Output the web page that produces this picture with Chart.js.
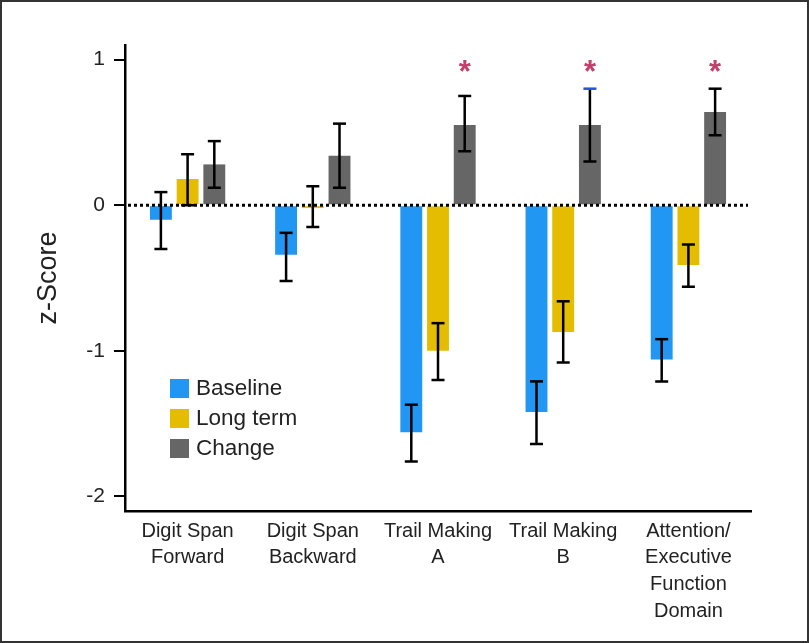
<!DOCTYPE html>
<html>
<head>
<meta charset="utf-8">
<script src="https://cdn.jsdelivr.net/npm/chart.js@4.4.1/dist/chart.umd.min.js"></script>
<style>
  html, body { margin: 0; padding: 0; background: #fff; }
  #wrap { width: 809px; height: 643px; position: relative; }
</style>
</head>
<body>
<div id="wrap"><canvas id="chart" width="809" height="643"></canvas></div>
<script>
const categories = [
  ['Digit Span', 'Forward'],
  ['Digit Span', 'Backward'],
  ['Trail Making', 'A'],
  ['Trail Making', 'B'],
  ['Attention/', 'Executive', 'Function', 'Domain']
];

const baseline   = [-0.10, -0.34, -1.56, -1.42, -1.06];
const baselineLo = [-0.30, -0.52, -1.76, -1.64, -1.21];
const baselineHi = [ 0.09, -0.19, -1.37, -1.21, -0.92];

const longTerm   = [ 0.18, -0.02, -1.00, -0.87, -0.41];
const longTermLo = [ 0.00, -0.15, -1.20, -1.08, -0.56];
const longTermHi = [ 0.35,  0.13, -0.81, -0.66, -0.27];

const change   = [0.28, 0.34, 0.55, 0.55, 0.64];
const changeLo = [0.12, 0.12, 0.37, 0.30, 0.48];
const changeHi = [0.44, 0.56, 0.75, 0.80, 0.80];
// one upper cap in the original is printed blue
const changeHiCap = ['#000', '#000', '#000', '#2a4fd8', '#000'];

const significant = [false, false, true, true, true];
const starLevel = 0.94;

const yTicks = [-2, -1, 0, 1];

const colors = { baseline: '#2196f3', longTerm: '#e5bd00', change: '#666666' };

const errorBars = [
  { lo: baselineLo, hi: baselineHi },
  { lo: longTermLo, hi: longTermHi },
  { lo: changeLo, hi: changeHi, hiCap: changeHiCap }
];

const overlay = {
  id: 'overlay',
  afterDatasetsDraw(chart) {
    const ctx = chart.ctx;
    const y = chart.scales.y;
    const area = chart.chartArea;

    // dotted zero line
    ctx.save();
    ctx.strokeStyle = '#000';
    ctx.lineWidth = 3;
    ctx.setLineDash([3, 3]);
    ctx.beginPath();
    const y0 = y.getPixelForValue(0);
    ctx.moveTo(area.left + 3, y0);
    ctx.lineTo(area.right - 3, y0);
    ctx.stroke();
    ctx.restore();

    // error bars
    ctx.save();
    ctx.lineWidth = 2.5;
    errorBars.forEach((eb, i) => {
      const meta = chart.getDatasetMeta(i);
      meta.data.forEach((bar, j) => {
        const yl = y.getPixelForValue(eb.lo[j]);
        const yh = y.getPixelForValue(eb.hi[j]);
        ctx.strokeStyle = '#000';
        ctx.beginPath();
        ctx.moveTo(bar.x, yl);
        ctx.lineTo(bar.x, yh);
        ctx.moveTo(bar.x - 6.5, yl);
        ctx.lineTo(bar.x + 6.5, yl);
        ctx.stroke();
        ctx.strokeStyle = eb.hiCap ? eb.hiCap[j] : '#000';
        ctx.beginPath();
        ctx.moveTo(bar.x - 6.5, yh);
        ctx.lineTo(bar.x + 6.5, yh);
        ctx.stroke();
      });
    });
    ctx.restore();

    // significance stars above the change bars
    ctx.save();
    ctx.fillStyle = '#c2416b';
    ctx.font = 'bold 31px "Liberation Sans", Arial, sans-serif';
    ctx.textAlign = 'center';
    ctx.textBaseline = 'middle';
    const meta = chart.getDatasetMeta(2);
    significant.forEach((s, j) => {
      if (!s) return;
      ctx.fillText('*', meta.data[j].x, y.getPixelForValue(starLevel) + 5);
    });
    ctx.restore();

    // legend inside plot
    ctx.save();
    ctx.font = '22.5px "Liberation Sans", Arial, sans-serif';
    ctx.textBaseline = 'middle';
    chart.data.datasets.forEach((ds, i) => {
      const cy = 388 + i * 30;
      ctx.fillStyle = ds.backgroundColor;
      ctx.fillRect(170, cy - 9, 19, 19);
      ctx.fillStyle = '#222';
      ctx.fillText(ds.label, 196, cy + 1);
    });
    ctx.restore();
  },
  afterDraw(chart) {
    const ctx = chart.ctx;
    ctx.save();
    ctx.strokeStyle = '#333';
    ctx.lineWidth = 2;
    ctx.strokeRect(1, 1, chart.width - 2, chart.height - 2);
    ctx.restore();
  }
};

new Chart(document.getElementById('chart'), {
  type: 'bar',
  data: {
    labels: categories,
    datasets: [
      { label: 'Baseline', data: baseline, backgroundColor: colors.baseline },
      { label: 'Long term', data: longTerm, backgroundColor: colors.longTerm },
      { label: 'Change', data: change, backgroundColor: colors.change }
    ]
  },
  options: {
    responsive: false,
    animation: false,
    layout: { padding: { left: 0, right: 58, top: 45, bottom: 0 } },
    datasets: { bar: { categoryPercentage: 0.64, barPercentage: 0.82 } },
    plugins: { legend: { display: false }, tooltip: { enabled: false } },
    scales: {
      x: {
        afterFit(scale) { scale.height = 132; },
        grid: { display: false, drawTicks: false },
        border: { display: true, color: '#000', width: 2.5 },
        ticks: {
          color: '#222',
          padding: 7,
          maxRotation: 0,
          autoSkip: false,
          font: { family: '"Liberation Sans Narrow", "Arial Narrow", "Liberation Sans", sans-serif', size: 20, lineHeight: 1.33 }
        }
      },
      y: {
        min: -2.1,
        max: 1.1,
        afterFit(scale) { scale.width = 125; },
        afterBuildTicks(scale) { scale.ticks = yTicks.map(v => ({ value: v })); },
        grid: { drawOnChartArea: false, drawTicks: true, tickLength: 11, color: '#000', lineWidth: 2 },
        border: { display: true, color: '#000', width: 2.5 },
        ticks: {
          color: '#222',
          padding: 9,
          callback: v => String(v),
          font: { family: '"Liberation Sans", Arial, sans-serif', size: 21 }
        },
        title: {
          display: true,
          text: 'z-Score',
          color: '#222',
          padding: { top: 32, bottom: 0 },
          font: { family: '"Liberation Sans", Arial, sans-serif', size: 27 }
        }
      }
    }
  },
  plugins: [overlay]
});
</script>
</body>
</html>
